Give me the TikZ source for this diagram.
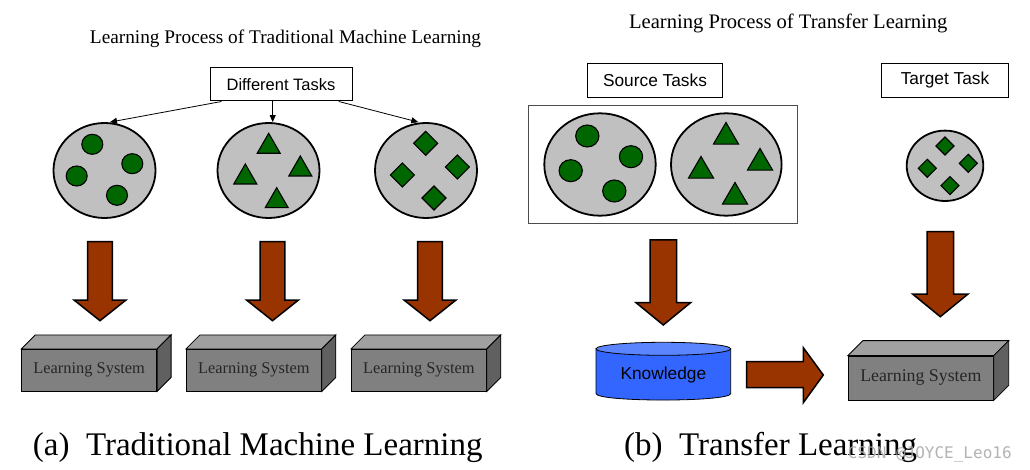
\documentclass[tikz,border=0pt]{standalone}
\usepackage{fontspec}
\setmainfont{Liberation Serif}
\setsansfont{Liberation Sans}
\newfontfamily\wmfont{DejaVu Sans Mono}
\usetikzlibrary{arrows.meta,shapes.geometric}
\definecolor{tgray}{HTML}{C0C0C0}
\definecolor{dgreen}{HTML}{006600}
\definecolor{arrowbrown}{HTML}{993300}
\definecolor{boxfront}{HTML}{808080}
\definecolor{boxtop}{HTML}{A0A0A0}
\definecolor{boxside}{HTML}{606060}
\definecolor{kbody}{HTML}{3366FF}
\definecolor{ktop}{HTML}{5A85FF}
\newcommand\lsbox[7]{%
  \node[lsfront, minimum width=#4pt, minimum height=#5pt, font=\fontsize{#7}{#7}\selectfont] (#1) at (#2,#3) {Learning System};
  \draw[lstop] (#1.north west) -- ++(#6,-#6) -- ([shift={(#6,-#6)}]#1.north east) -- (#1.north east) -- cycle;
  \draw[lsside] (#1.north east) -- ++(#6,-#6) -- ([shift={(#6,-#6)}]#1.south east) -- (#1.south east) -- cycle;
}
\begin{document}
\begin{tikzpicture}[x=1pt,y=-1pt,
  task/.style={ellipse, draw=black, fill=tgray, line width=1.8pt, inner sep=0pt},
  gshape/.style={draw=black, fill=dgreen, line width=1.1pt, line join=miter},
  gdot/.style={ellipse, gshape, inner sep=0pt},
  tasklabel/.style={draw=black, fill=white, line width=1pt, font=\sffamily\fontsize{16.5}{18}\selectfont, inner sep=0pt},
  bigarrow/.style={draw=black, fill=arrowbrown, line width=1.5pt, line join=miter},
  lsfront/.style={draw=black, fill=boxfront, line width=0.8pt, inner sep=0pt, text=black!85},
  lstop/.style={draw=black, fill=boxtop, line width=0.8pt},
  lsside/.style={draw=black, fill=boxside, line width=0.8pt},
  kcyl/.style={draw=black, fill=kbody, line width=0.8pt},
  thinarrow/.style={-{Triangle[length=7pt,width=6pt]}, line width=0.8pt},
  tri/.pic={\draw[gshape] (-11.5,10) -- (0,-10) -- (11.5,10) -- cycle;},
  dia/.pic={\draw[gshape] (-12,0) -- (0,-12) -- (12,0) -- (0,12) -- cycle;},
  downA/.pic={\draw[bigarrow] (-12.3,0) -- (-12.3,58.3) -- (-26,58.3) -- (0,79) -- (26,58.3) -- (12.3,58.3) -- (12.3,0) -- cycle;},
  downB/.pic={\draw[bigarrow] (-13.2,0) -- (-13.2,62.5) -- (-27.5,62.5) -- (0,85) -- (27.5,62.5) -- (13.2,62.5) -- (13.2,0) -- cycle;},
]
\useasboundingbox (0,0) rectangle (1030,470);
\fill[white] (0,0) rectangle (1030,470);

% ---------- (a) traditional ----------
\node[anchor=base, font=\fontsize{19.3}{20}\selectfont] (t1) at (285.5,44) {Learning Process of Traditional Machine Learning};
\node[tasklabel, minimum width=142pt, minimum height=33pt] (dt) at (281,84.5) {Different Tasks};

\node[task, minimum width=102pt, minimum height=95pt] (e1) at (104.5,170.5) {};
\node[task, minimum width=102pt, minimum height=95pt] (e2) at (268.5,170.5) {};
\node[task, minimum width=102pt, minimum height=95pt] (e3) at (426,170.5) {};

\draw[thinarrow] ([xshift=12pt]dt.south west) -- ([xshift=5.5pt]e1.north);
\coordinate (m2) at ([xshift=4.2pt]e2.north);
\draw[thinarrow] (m2 |- dt.south) -- (m2);
\draw[thinarrow] ([xshift=-13.7pt]dt.south east) -- ([xshift=-7.7pt]e3.north);

\foreach \p/\n in {{92.3,144.3}/a,{132.3,163.7}/b,{76.7,176}/c,{117,195.3}/d}
  \node[gdot, minimum width=21pt, minimum height=20pt] (c1\n) at (\p) {};
\foreach \p in {{268.7,143.3},{300.3,166},{245.3,174},{276.7,197.7}}
  \pic at (\p) {tri};
\foreach \p in {{425.7,143.3},{457.3,167},{402.3,175},{434,198}}
  \pic at (\p) {dia};

\pic at (100,241.7) {downA};
\pic at (272.5,241.7) {downA};
\pic at (430,241.7) {downA};

\lsbox{ls1}{89.2}{370.2}{135}{41.7}{14}{16.4}
\lsbox{ls2}{253.85}{370.2}{135}{41.7}{14}{16.4}
\lsbox{ls3}{418.85}{370.2}{135}{41.7}{14}{16.4}

\node[anchor=base west, inner sep=0pt, font=\fontsize{33}{36}\selectfont] (capa) at (32.7,455) {(a)\hspace{0.5em}Traditional Machine Learning};

% ---------- (b) transfer ----------
\node[anchor=base, font=\fontsize{20.6}{22}\selectfont] (t2) at (788.3,28.5) {Learning Process of Transfer Learning};
\node[tasklabel, font=\sffamily\fontsize{17.3}{18}\selectfont, minimum width=134.6pt, minimum height=34pt] (src) at (655,80.3) {Source Tasks};
\node[tasklabel, font=\sffamily\fontsize{17.3}{18}\selectfont, minimum width=126.6pt, minimum height=34pt] (tgt) at (945,80.3) {Target Task};

\node[draw=black!70, line width=0.8pt, minimum width=269.4pt, minimum height=118pt, inner sep=0pt] (srcbox) at (663,164.3) {};
\node[task, minimum width=111.4pt, minimum height=102.4pt] (sa) at (600,164.5) {};
\node[task, minimum width=110.6pt, minimum height=102.4pt] (sb) at (726.3,164.5) {};
\node[task, minimum width=76.6pt, minimum height=70.4pt] (tg) at (945,165.8) {};

\foreach \p/\n in {{587.3,136}/a,{631,156.7}/b,{570.7,170.7}/c,{614.3,191}/d}
  \node[gdot, minimum width=23.3pt, minimum height=22pt] (c2\n) at (\p) {};
\foreach \p in {{726,133.3},{760,159.3},{701,167.3},{735,193.3}}
  \pic[xscale=1.09, yscale=1.08] at (\p) {tri};
\foreach \p in {{945,146},{968.3,163.3},{927.3,168.3},{950,185.7}}
  \pic[scale=0.75] at (\p) {dia};

\pic at (663.3,240) {downB};
\pic at (940.3,231.7) {downB};

% knowledge cylinder
\draw[kcyl] (596,348.8) -- (596,393.5) .. controls (596,402.2) and (730.7,402.2) .. (730.7,393.5) -- (730.7,348.8) -- cycle;
\node[ellipse, draw=black, fill=ktop, line width=0.8pt, minimum width=134.7pt, minimum height=13pt, inner sep=0pt] (ktopn) at (663.35,348.8) {};
\node[font=\sffamily\fontsize{17.3}{18}\selectfont] (know) at (663.35,375) {Knowledge};

\draw[bigarrow] (746.7,361.7) -- (803.3,361.7) -- (803.3,347.7) -- (823.3,375) -- (803.3,402.7) -- (803.3,387.7) -- (746.7,387.7) -- cycle;

\lsbox{ls4}{920.8}{378}{145}{44}{15}{17.8}

\node[anchor=base west, inner sep=0pt, font=\fontsize{33}{36}\selectfont] (capb) at (624,455) {(b)\hspace{0.5em}Transfer Learning};
\node[anchor=base west, inner sep=0pt, text=gray!70, opacity=0.85, font=\wmfont\fontsize{16}{16}\selectfont] (wm) at (847.7,458) {CSDN @JOYCE\_Leo16};
\end{tikzpicture}
\end{document}
